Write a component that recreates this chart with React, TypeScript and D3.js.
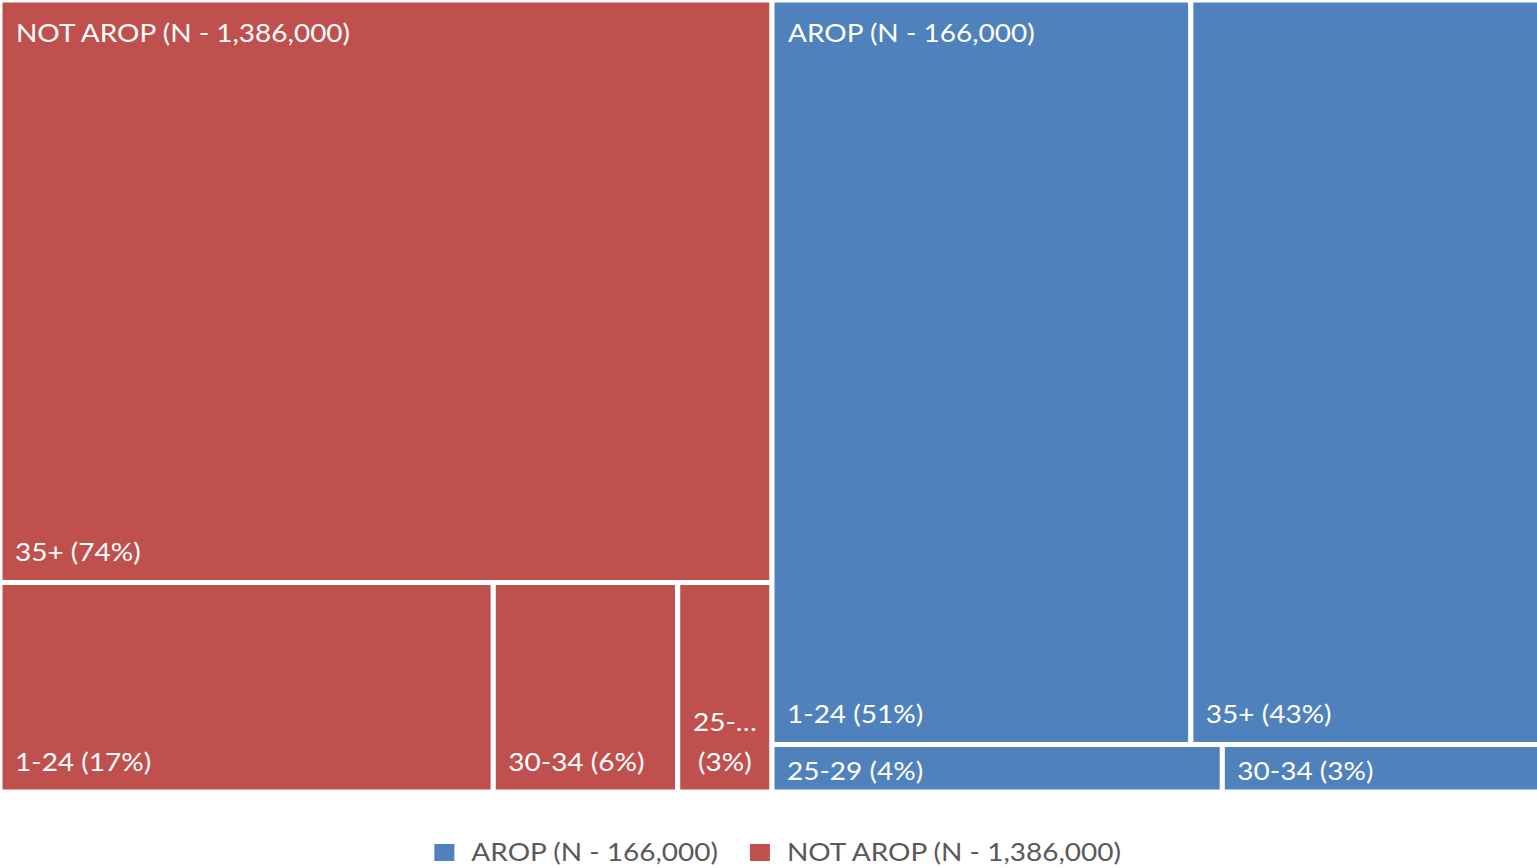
import React from "react";
import * as d3 from "d3";

// ---- data ----
const groupNames = ["NOT AROP (N - 1,386,000)", "AROP (N - 166,000)"];
const notAropCategories = ["35+ (74%)", "1-24 (17%)", "30-34 (6%)", "25-29 (3%)"];
const notAropValues = [73.55, 16.9, 6.32, 3.23];
const aropCategories = ["1-24 (51%)", "35+ (43%)", "25-29 (4%)", "30-34 (3%)"];
const aropValues = [51.0, 43.0, 3.5, 2.5];
const legendOrder = ["AROP (N - 166,000)", "NOT AROP (N - 1,386,000)"];

// ---- styles ----
const WIDTH = 1537;
const HEIGHT = 868;
const TREE_W = 1544;
const TREE_H = 792;
const FONT = "Lato, 'Open Sans', sans-serif";
const FONT_SIZE = 25;
const SX = 1.12;
const colors: Record<string, string> = {
  "NOT AROP (N - 1,386,000)": "#C0504D",
  "AROP (N - 166,000)": "#4F81BD",
};

let ctx: CanvasRenderingContext2D | null = null;
function measure(t: string): number {
  if (!ctx) {
    const c = document.createElement("canvas");
    ctx = c.getContext("2d");
  }
  if (!ctx) return t.length * FONT_SIZE * 0.55 * SX;
  ctx.font = `${FONT_SIZE}px Lato`;
  return ctx.measureText(t).width * SX;
}

function wrapLabel(label: string, avail: number): string[] {
  if (measure(label) <= avail) return [label];
  const words = label.split(" ");
  const lines: string[] = [];
  let cur = "";
  for (const w of words) {
    const test = cur ? cur + " " + w : w;
    if (measure(test) <= avail || !cur) {
      cur = test;
    } else {
      lines.push(cur);
      cur = w;
    }
  }
  if (cur) lines.push(cur);
  return lines.map((l) => {
    if (measure(l) <= avail) return l;
    let s = l;
    while (s.length > 1 && measure(s + "…") > avail) s = s.slice(0, -1);
    return s + "…";
  });
}

export default function App() {
  const data = {
    name: "root",
    children: [
      {
        name: groupNames[0],
        children: notAropCategories.map((c, i) => ({ name: c, value: notAropValues[i] })),
      },
      {
        name: groupNames[1],
        children: aropCategories.map((c, i) => ({ name: c, value: aropValues[i] })),
      },
    ],
  };
  const root = d3.hierarchy<any>(data).sum((d: any) => d.value || 0);
  d3.treemap<any>().size([TREE_W, TREE_H]).tile(d3.treemapSquarify)(root);
  const groups = (root.children || []) as d3.HierarchyRectangularNode<any>[];
  const leaves = root.leaves() as d3.HierarchyRectangularNode<any>[];

  // legend layout
  const sq = 20;
  const gapSqText = 17;
  const gapItems = 31;
  const itemWidths = legendOrder.map((n) => sq + gapSqText + measure(n));
  const totalLegend = itemWidths.reduce((a, b) => a + b, 0) + gapItems * (legendOrder.length - 1);
  let lx = 779 - totalLegend / 2;
  const legendItems = legendOrder.map((n, i) => {
    const x = lx;
    lx += itemWidths[i] + gapItems;
    return { name: n, x };
  });
  const legendY = 852;

  return (
    <svg
      width={WIDTH}
      height={HEIGHT}
      style={{ position: "absolute", left: 0, top: 0, background: "#fff" }}
      fontFamily={FONT}
      fontSize={FONT_SIZE}
    >
      {leaves.map((l, i) => (
        <rect
          key={"r" + i}
          x={l.x0}
          y={l.y0}
          width={l.x1 - l.x0}
          height={l.y1 - l.y0}
          fill={colors[l.parent!.data.name]}
          stroke="#fff"
          strokeWidth={5}
        />
      ))}
      {leaves.map((l, i) => {
        const avail = l.x1 - l.x0 - 26;
        const lines = wrapLabel(l.data.name, avail);
        const bottomCenter = Math.max(l.y1 - 30.5, (l.y0 + l.y1) / 2 + 2);
        const lh = 40;
        const wrapped = lines.length > 1;
        return lines.map((t, j) => (
          <text
            key={"t" + i + "-" + j}
            transform={`translate(${wrapped ? (l.x0 + l.x1) / 2 : l.x0 + 15},${
              bottomCenter - (lines.length - 1 - j) * lh
            }) scale(${SX},1)`}
            dominantBaseline="central"
            textAnchor={wrapped ? "middle" : "start"}
            fill="#fff"
          >
            {t}
          </text>
        ));
      })}
      {groups.map((g, i) => (
        <text
          key={"g" + i}
          transform={`translate(${g.x0 + 16},${33}) scale(${SX},1)`}
          dominantBaseline="central"
          fill="#fff"
        >
          {g.data.name}
        </text>
      ))}
      {legendItems.map((it, i) => (
        <g key={"l" + i}>
          <rect x={it.x} y={legendY - 8} width={sq} height={17} fill={colors[it.name]} />
          <text
            transform={`translate(${it.x + sq + gapSqText},${legendY}) scale(${SX},1)`}
            dominantBaseline="central"
            fill="#595959"
          >
            {it.name}
          </text>
        </g>
      ))}
    </svg>
  );
}
